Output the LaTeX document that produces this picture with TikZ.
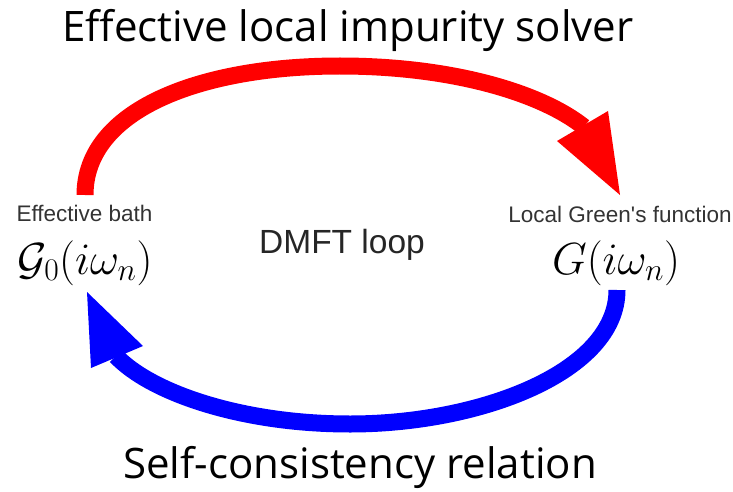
\RequirePackage{fix-cm}
\documentclass[tikz,border=0pt]{standalone}
\usepackage{fontspec}
\setmainfont{Liberation Sans}
\newfontfamily\headfont{Open Sans}
\begin{document}
\begin{tikzpicture}[x=1pt,y=-1pt,
  heading/.style={font=\headfont\fontsize{42}{46}\selectfont, inner sep=0pt, anchor=base},
  small/.style={font=\fontsize{22.5}{25}\selectfont, inner sep=0pt, text=black!80, anchor=base},
  mid/.style={font=\fontsize{33.5}{36}\selectfont, inner sep=0pt, text=black!85, anchor=base},
  mathlbl/.style={font=\fontsize{45}{48}\selectfont, inner sep=0pt, anchor=base},
  shaft/.style={line width=17pt},
]
\useasboundingbox (0,0) rectangle (733,492);

% texts
\node[heading] (solver) at (348,42) {Effective local impurity solver};
\node[heading] (selfcons) at (360,478) {Self-consistency relation};
\node[small] (bathlbl) at (84.5,221) {Effective bath};
\node[small] (greenlbl) at (620,222) {Local Green\textquotesingle s function};
\node[mathlbl] (bath) at (85,274) {$\mathcal{G}_0(i\omega_n)$};
\node[mathlbl] (green) at (616,274) {$G(i\omega_n)$};
\node[mid] (loop) at (342,253) {DMFT loop};

% red arrow: solver step
\coordinate (rs) at (85,195);
\coordinate (rm) at (340,66);
\coordinate (rb) at (584,127);
\coordinate (rtip) at (620,195);
\coordinate (rw1) at (608,111);
\coordinate (rw2) at (557,141);
\draw[red, shaft] (rs) .. controls (85,110) and (200,66) .. (rm)
  .. controls (450,66) and (540,92) .. (rb);
\fill[red] (rw1) -- (rtip) -- (rw2) -- cycle;

% blue arrow: self-consistency step
\coordinate (bs) at (617,290);
\coordinate (bm) at (350,424);
\coordinate (bb) at (116,356);
\coordinate (btip) at (87,292);
\coordinate (bw1) at (143,346);
\coordinate (bw2) at (91,368);
\draw[blue, shaft] (bs) .. controls (617,372) and (480,424) .. (bm)
  .. controls (240,424) and (150,392) .. (bb);
\fill[blue] (bw1) -- (btip) -- (bw2) -- cycle;
\end{tikzpicture}
\end{document}
